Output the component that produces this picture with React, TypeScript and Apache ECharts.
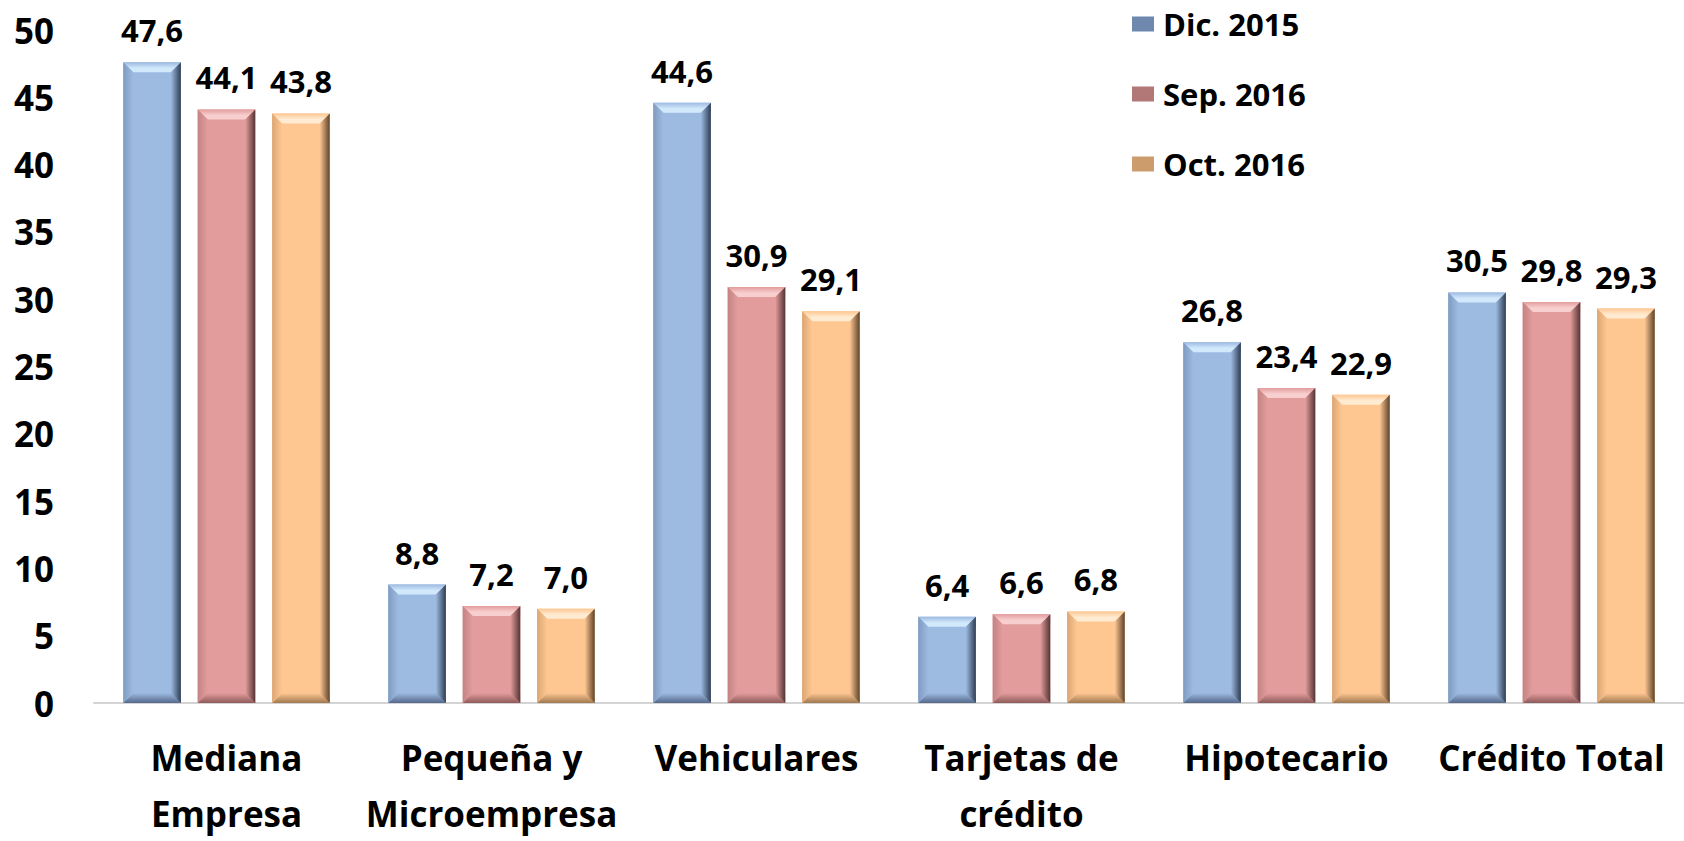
import React, { useEffect, useRef } from "react";
import * as echarts from "echarts";

const categories = [
  "Mediana\nEmpresa",
  "Pequeña y\nMicroempresa",
  "Vehiculares",
  "Tarjetas de\ncrédito",
  "Hipotecario",
  "Crédito Total",
];
const seriesNames = ["Dic. 2015", "Sep. 2016", "Oct. 2016"];
const dic2015 = [47.6, 8.8, 44.6, 6.4, 26.8, 30.5];
const sep2016 = [44.1, 7.2, 30.9, 6.6, 23.4, 29.8];
const oct2016 = [43.8, 7.0, 29.1, 6.8, 22.9, 29.3];
const yTicks = { min: 0, max: 50, interval: 5 };

const palettes = [
  { base: "#9DBAE1", light: "#D2E9FC", left: "#7F9BC2", right: "#2E3D52", bottom: "#55698A", legend: "#6F89AE" },
  { base: "#E39C9C", light: "#F8CFCF", left: "#C48383", right: "#553434", bottom: "#8E5A5A", legend: "#B27777" },
  { base: "#FEC792", light: "#FFEBD2", left: "#DCA674", right: "#5E432A", bottom: "#A07850", legend: "#CC9C6C" },
];

const FONT = "'Open Sans', Lato, sans-serif";
const BAR_RATIO = 58 / 267;
const STEP_RATIO = 75 / 267;
const BEVEL = 10;

function makeSeries(idx: number, values: number[]) {
  const p = palettes[idx];
  return {
    type: "custom",
    name: seriesNames[idx],
    itemStyle: { color: p.legend },
    data: values.map((v, i) => [i, v]),
    encode: { x: 0, y: 1 },
    renderItem: (params: any, api: any) => {
      const cat = api.value(0);
      const v = api.value(1);
      const topPt = api.coord([cat, v]);
      const basePt = api.coord([cat, 0]);
      const band = api.size([1, 0])[0];
      const bw = band * BAR_RATIO;
      const cx = topPt[0] + (idx - 1) * band * STEP_RATIO;
      const x0 = cx - bw / 2;
      const x1 = cx + bw / 2;
      const y0 = topPt[1];
      const y1 = basePt[1];
      const b = Math.min(BEVEL, (y1 - y0) / 2);
      const label = v.toFixed(1).replace(".", ",");
      return {
        type: "group",
        children: [
          { type: "rect", shape: { x: x0, y: y0, width: x1 - x0, height: y1 - y0 }, style: { fill: p.base } },
          {
            type: "polygon",
            shape: { points: [[x0, y0], [x1, y0], [x1 - b, y0 + b], [x0 + b, y0 + b]] },
            style: {
              fill: new echarts.graphic.LinearGradient(0, 0, 0, 1, [
                { offset: 0, color: p.base },
                { offset: 0.6, color: p.light },
                { offset: 1, color: p.light },
              ]),
            },
          },
          {
            type: "polygon",
            shape: { points: [[x0, y1], [x1, y1], [x1 - b, y1 - b], [x0 + b, y1 - b]] },
            style: {
              fill: new echarts.graphic.LinearGradient(0, 0, 0, 1, [
                { offset: 0, color: p.base },
                { offset: 1, color: p.bottom },
              ]),
            },
          },
          {
            type: "polygon",
            shape: { points: [[x0, y0], [x0 + b, y0 + b], [x0 + b, y1 - b], [x0, y1]] },
            style: {
              fill: new echarts.graphic.LinearGradient(0, 0, 1, 0, [
                { offset: 0, color: p.left },
                { offset: 1, color: p.base },
              ]),
            },
          },
          {
            type: "polygon",
            shape: { points: [[x1, y0], [x1 - b, y0 + b], [x1 - b, y1 - b], [x1, y1]] },
            style: {
              fill: new echarts.graphic.LinearGradient(0, 0, 1, 0, [
                { offset: 0, color: p.base },
                { offset: 1, color: p.right },
              ]),
            },
          },
          {
            type: "text",
            x: cx,
            y: y0 - 32,
            style: {
              text: label,
              align: "center",
              verticalAlign: "middle",
              fontFamily: FONT,
              fontWeight: "bold",
              fontSize: 31,
              fill: "#000",
            },
          },
        ],
      };
    },
  };
}

export default function App() {
  const ref = useRef<HTMLDivElement>(null);
  useEffect(() => {
    if (!ref.current) return;
    const chart = echarts.init(ref.current, undefined, { renderer: "svg" });
    chart.setOption({
      animation: false,
      backgroundColor: "#ffffff",
      grid: { left: 94, right: -13, top: 30, bottom: 128, containLabel: false },
      legend: {
        orient: "vertical",
        left: 1132,
        top: 6,
        padding: 0,
        icon: "rect",
        itemWidth: 22,
        itemHeight: 15,
        itemGap: 34,
        data: seriesNames,
        textStyle: { fontFamily: FONT, fontWeight: "bold", fontSize: 31, color: "#000", lineHeight: 36, padding: [0, 0, 0, 4] },
      },
      xAxis: {
        type: "category",
        data: categories,
        axisLine: { show: true, lineStyle: { color: "#D4D4D4", width: 2 } },
        axisTick: { show: false },
        axisLabel: {
          interval: 0,
          margin: 26,
          fontFamily: FONT,
          fontWeight: "bold",
          fontSize: 35,
          lineHeight: 56,
          color: "#000",
        },
      },
      yAxis: {
        type: "value",
        min: yTicks.min,
        max: yTicks.max,
        interval: yTicks.interval,
        splitLine: { show: false },
        axisLine: { show: false },
        axisTick: { show: false },
        axisLabel: { margin: 40, fontFamily: FONT, fontWeight: "bold", fontSize: 35, color: "#000" },
      },
      series: [makeSeries(0, dic2015), makeSeries(1, sep2016), makeSeries(2, oct2016)],
    });
    return () => chart.dispose();
  }, []);
  return (
    <div
      ref={ref}
      style={{ position: "absolute", left: 0, top: 0, width: 1684, height: 841 }}
    />
  );
}
